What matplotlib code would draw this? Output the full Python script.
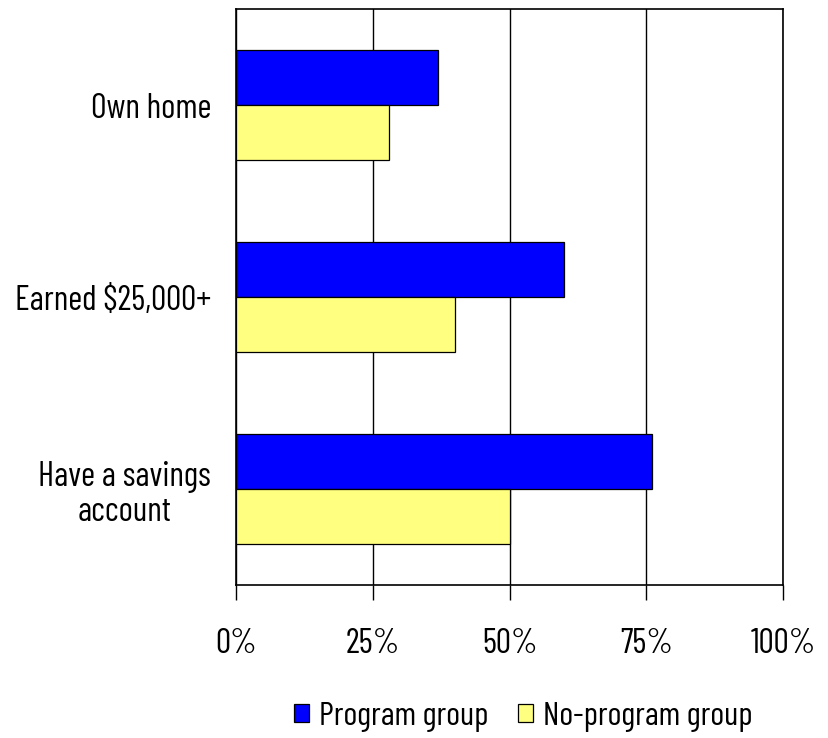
import matplotlib
matplotlib.use("Agg")
import matplotlib.pyplot as plt
import numpy as np

# fonte estreita parecida com a do original
plt.rcParams['font.family'] = ['Barlow Condensed', 'Liberation Sans', 'DejaVu Sans']

categorias = ['Own home', 'Earned $25,000+', 'Have a savings\naccount']
program_group = [37, 60, 76]
no_program_group = [28, 40, 50]
ticks_x = [0, 25, 50, 75, 100]

fig = plt.figure(figsize=(8.29, 7.38), dpi=100)
ax = fig.add_axes([0.2847, 0.2073, 0.66, 0.7805])

y = np.arange(len(categorias))
h = 0.286
ax.barh(y - h / 2, program_group, height=h, color='#0000FF', edgecolor='black', linewidth=0.9,
        label='Program group', zorder=3)
ax.barh(y + h / 2, no_program_group, height=h, color='#FFFF80', edgecolor='black', linewidth=0.9,
        label='No-program group', zorder=3)

ax.set_xlim(0, 100)
ax.set_ylim(2.5, -0.5)
ax.set_xticks(ticks_x)
ax.set_xticklabels([f'{t}%' for t in ticks_x], fontsize=24.5)
ax.set_yticks(y)
ax.set_yticklabels(categorias, fontsize=24.5, multialignment='center', linespacing=1.15)
ax.tick_params(axis='y', length=0, pad=18)
ax.tick_params(axis='x', length=11, width=1, direction='out', pad=20)
ax.grid(axis='x', color='black', linewidth=1, zorder=0)
for s in ax.spines.values():
    s.set_linewidth(1.2)
    s.set_color('black')

fig.legend(loc='center', bbox_to_anchor=(0.631, 0.029), ncol=2, frameon=False, fontsize=24,
           handlelength=0.45, handleheight=0.45, handletextpad=0.3, columnspacing=0.9)

fig.savefig('out.png', dpi=100)
